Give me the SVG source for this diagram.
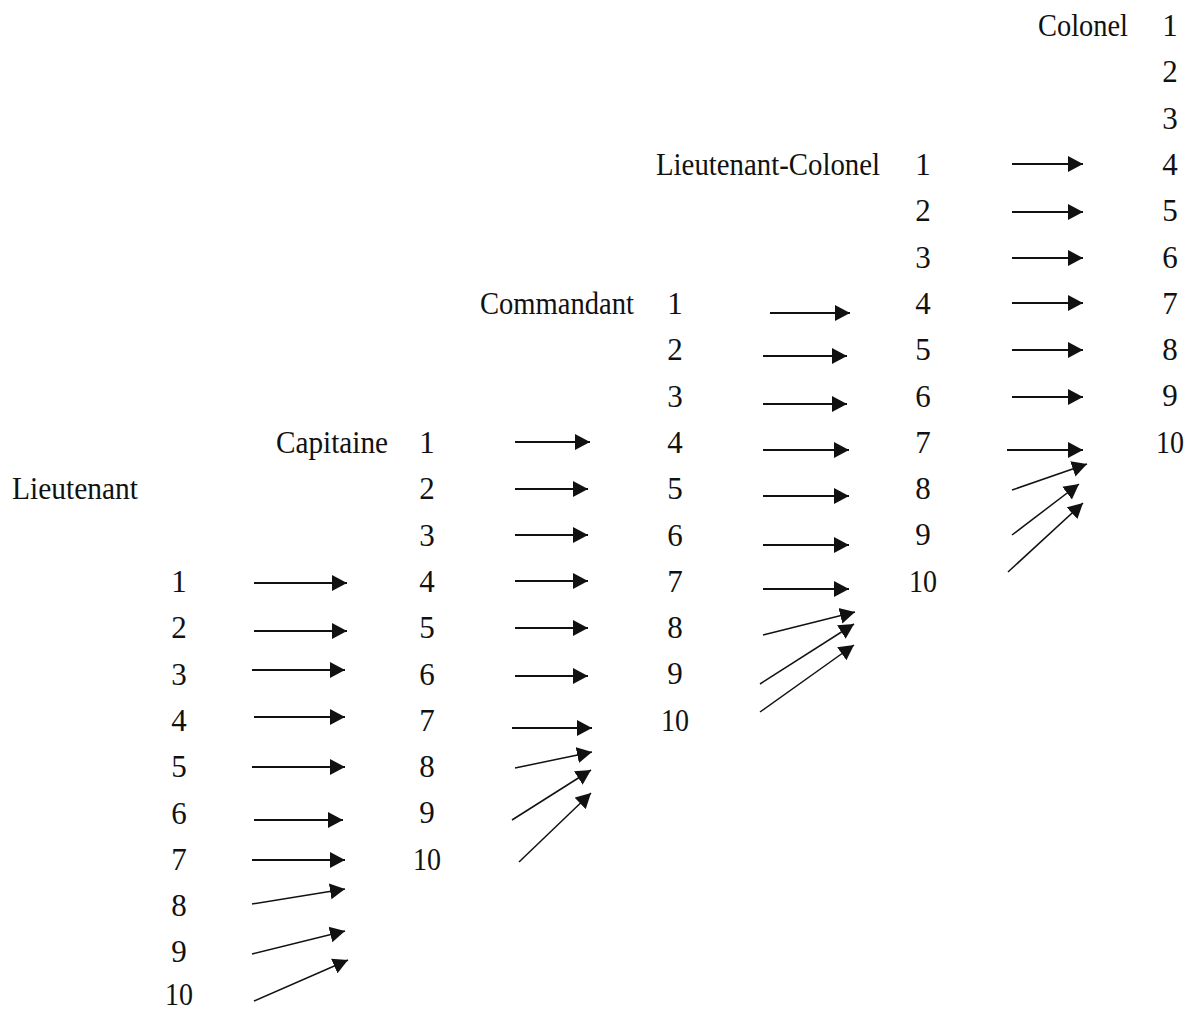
<svg xmlns="http://www.w3.org/2000/svg" width="1199" height="1013" viewBox="0 0 1199 1013">
<style>
text{font-family:"Liberation Serif","Times New Roman",serif;font-size:31px;fill:#111}
.n{text-anchor:middle}
.c line{stroke:#111;stroke-width:2;marker-end:url(#ah)}
.c line.d{stroke-width:1.5}
</style>
<defs>
<marker id="ah" markerUnits="userSpaceOnUse" markerWidth="15" markerHeight="17" refX="15" refY="8" orient="auto" viewBox="0 0 15 16">
<path d="M0,0 L15,8 L0,16 z" fill="#111"/>
</marker>
</defs>
<rect width="1199" height="1013" fill="#fff"/>

<g id="lieutenant">
<text x="12" y="499" textLength="126" lengthAdjust="spacingAndGlyphs">Lieutenant</text>
<text class="n" x="179" y="592">1</text>
<text class="n" x="179" y="638">2</text>
<text class="n" x="179" y="685">3</text>
<text class="n" x="179" y="731">4</text>
<text class="n" x="179" y="777">5</text>
<text class="n" x="179" y="824">6</text>
<text class="n" x="179" y="870">7</text>
<text class="n" x="179" y="916">8</text>
<text class="n" x="179" y="962">9</text>
<text class="n" x="179" y="1005" textLength="28" lengthAdjust="spacingAndGlyphs">10</text>
</g>

<g id="capitaine">
<text x="276" y="453" textLength="112" lengthAdjust="spacingAndGlyphs">Capitaine</text>
<text class="n" x="427" y="453">1</text>
<text class="n" x="427" y="499">2</text>
<text class="n" x="427" y="546">3</text>
<text class="n" x="427" y="592">4</text>
<text class="n" x="427" y="638">5</text>
<text class="n" x="427" y="685">6</text>
<text class="n" x="427" y="731">7</text>
<text class="n" x="427" y="777">8</text>
<text class="n" x="427" y="823">9</text>
<text class="n" x="427" y="870" textLength="28" lengthAdjust="spacingAndGlyphs">10</text>
</g>

<g id="commandant">
<text x="480" y="314" textLength="154" lengthAdjust="spacingAndGlyphs">Commandant</text>
<text class="n" x="675" y="314">1</text>
<text class="n" x="675" y="360">2</text>
<text class="n" x="675" y="407">3</text>
<text class="n" x="675" y="453">4</text>
<text class="n" x="675" y="499">5</text>
<text class="n" x="675" y="546">6</text>
<text class="n" x="675" y="592">7</text>
<text class="n" x="675" y="638">8</text>
<text class="n" x="675" y="684">9</text>
<text class="n" x="675" y="731" textLength="28" lengthAdjust="spacingAndGlyphs">10</text>
</g>

<g id="lieutenant-colonel">
<text x="656" y="175" textLength="224" lengthAdjust="spacingAndGlyphs">Lieutenant-Colonel</text>
<text class="n" x="923" y="175">1</text>
<text class="n" x="923" y="221">2</text>
<text class="n" x="923" y="268">3</text>
<text class="n" x="923" y="314">4</text>
<text class="n" x="923" y="360">5</text>
<text class="n" x="923" y="407">6</text>
<text class="n" x="923" y="453">7</text>
<text class="n" x="923" y="499">8</text>
<text class="n" x="923" y="545">9</text>
<text class="n" x="923" y="592" textLength="28" lengthAdjust="spacingAndGlyphs">10</text>
</g>

<g id="colonel">
<text x="1038" y="36" textLength="90" lengthAdjust="spacingAndGlyphs">Colonel</text>
<text class="n" x="1170" y="36">1</text>
<text class="n" x="1170" y="82">2</text>
<text class="n" x="1170" y="129">3</text>
<text class="n" x="1170" y="175">4</text>
<text class="n" x="1170" y="221">5</text>
<text class="n" x="1170" y="268">6</text>
<text class="n" x="1170" y="314">7</text>
<text class="n" x="1170" y="360">8</text>
<text class="n" x="1170" y="406">9</text>
<text class="n" x="1170" y="453" textLength="28" lengthAdjust="spacingAndGlyphs">10</text>
</g>

<g id="connectors" class="c">
<line x1="254" y1="583" x2="347" y2="583"/>
<line x1="254" y1="631" x2="347" y2="631"/>
<line x1="252" y1="670" x2="345" y2="670"/>
<line x1="254" y1="717" x2="345" y2="717"/>
<line x1="252" y1="767" x2="345" y2="767"/>
<line x1="254" y1="820" x2="343" y2="820"/>
<line x1="252" y1="860" x2="345" y2="860"/>
<line class="d" x1="252" y1="904" x2="345" y2="889"/>
<line class="d" x1="252" y1="954" x2="345" y2="931"/>
<line class="d" x1="254" y1="1001" x2="348" y2="960"/>

<line x1="515" y1="442" x2="590" y2="442"/>
<line x1="515" y1="489" x2="588" y2="489"/>
<line x1="515" y1="535" x2="588" y2="535"/>
<line x1="515" y1="581" x2="588" y2="581"/>
<line x1="515" y1="628" x2="588" y2="628"/>
<line x1="515" y1="676" x2="588" y2="676"/>
<line x1="512" y1="728" x2="592" y2="728"/>
<line class="d" x1="515" y1="768" x2="592" y2="752"/>
<line class="d" x1="512" y1="820" x2="591" y2="770"/>
<line class="d" x1="519" y1="862" x2="591" y2="793"/>

<line x1="770" y1="313" x2="850" y2="313"/>
<line x1="763" y1="356" x2="847" y2="356"/>
<line x1="763" y1="404" x2="847" y2="404"/>
<line x1="763" y1="450" x2="849" y2="450"/>
<line x1="763" y1="496" x2="849" y2="496"/>
<line x1="763" y1="545" x2="849" y2="545"/>
<line x1="763" y1="589" x2="849" y2="589"/>
<line class="d" x1="763" y1="635" x2="855" y2="612"/>
<line class="d" x1="760" y1="684" x2="854" y2="624"/>
<line class="d" x1="760" y1="712" x2="854" y2="645"/>

<line x1="1012" y1="164" x2="1083" y2="164"/>
<line x1="1012" y1="212" x2="1083" y2="212"/>
<line x1="1012" y1="258" x2="1083" y2="258"/>
<line x1="1012" y1="303" x2="1083" y2="303"/>
<line x1="1012" y1="350" x2="1083" y2="350"/>
<line x1="1012" y1="397" x2="1083" y2="397"/>
<line x1="1007" y1="450" x2="1083" y2="450"/>
<line class="d" x1="1012" y1="490" x2="1087" y2="464"/>
<line class="d" x1="1012" y1="535" x2="1079" y2="484"/>
<line class="d" x1="1008" y1="572" x2="1083" y2="503"/>
</g>
</svg>
